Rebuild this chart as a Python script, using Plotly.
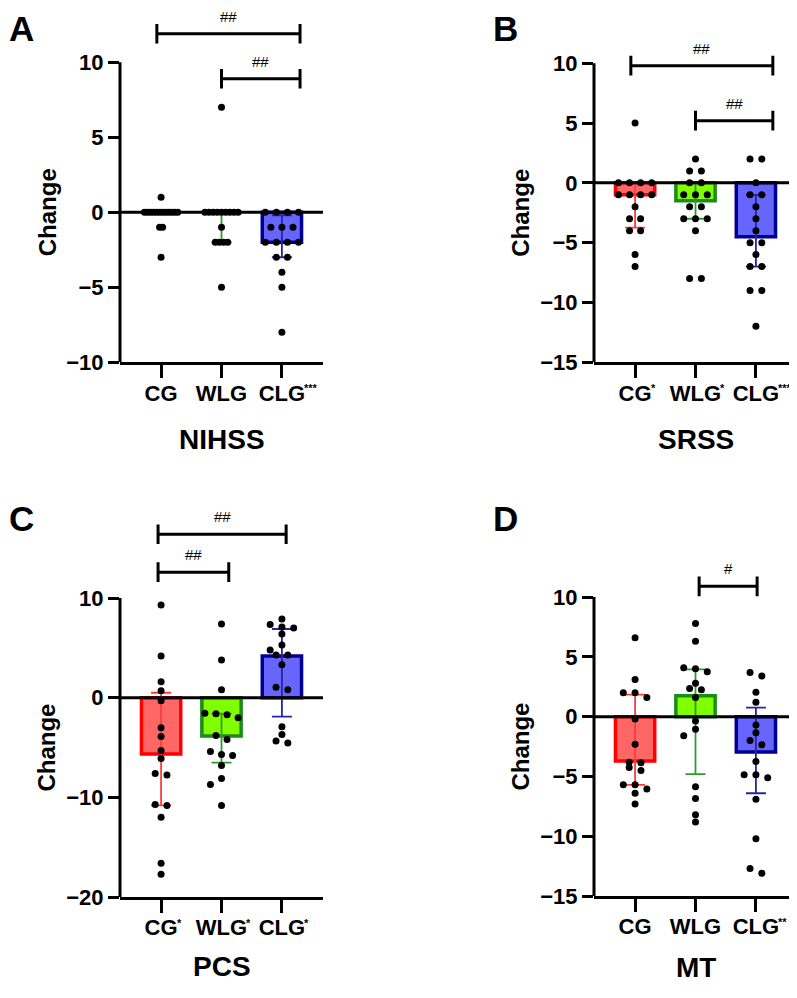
import numpy as np
import plotly.graph_objects as go

# the page puts the figure 8px in from the top-left corner,
# so the figure is sized to end exactly at the window edge
OFF = 8
FW, FH = 797 - OFF, 998 - 2 * OFF
FONT = "Liberation Sans, Arial, Helvetica, sans-serif"

groups = ["CG", "WLG", "CLG"]

# A - NIHSS change (one dot per patient)
nihss_cg = [1, 0, 0, 0, 0, 0, 0, 0, 0, 0, 0, 0, 0, -1, -1, -3]
nihss_wlg = [7, 0, 0, 0, 0, 0, 0, 0, 0, 0, -1, -2, -2, -2, -2, -5]
nihss_clg = [0, 0, 0, 0, -1, -1, -1, -2, -2, -2, -2, -3, -3, -4, -5, -8]
nihss_median = [0, 0, -2]
nihss_q3 = [0, 0, -0.2]
nihss_q1 = [0, -2, -3]
nihss_marks = ["", "", "***"]

# B - SRSS change
srss_cg = [5, 0, 0, 0, 0, -1, -1, -1, -1, -2, -3, -3, -4, -4, -6, -7]
srss_wlg = [2, 1, 1, 0, 0, -1, -1, -1, -2, -2, -3, -3, -3, -4, -8, -8]
srss_clg = [2, 2, 0, -1, -1, -2, -3, -4, -5, -5, -6, -7, -7, -9, -9, -12]
srss_median = [-1, -1.5, -4.5]
srss_q3 = [0, 0, -1]
srss_q1 = [-3.75, -3, -7]
srss_marks = ["*", "*", "***"]

# C - PCS change
pcs_cg = [9.3, 4.2, 1.6, 0.7, -0.3, -3.0, -3.9, -5.3, -6.1, -7.6, -7.75,
          -10.7, -10.8, -12.0, -16.6, -17.7]
pcs_wlg = [7.4, 3.8, 0.8, -1.55, -1.6, -1.7, -2.0, -3.8, -4.2, -5.4, -5.7,
           -5.8, -6.8, -8.1, -8.7, -10.8]
pcs_clg = [7.9, 7.35, 7.1, 7.0, 6.4, 5.3, 4.8, 4.3, 4.3, 3.3, 1.05, 0.8,
           -2.9, -3.7, -4.35, -4.55]
pcs_median = [-5.65, -3.85, 4.2]
pcs_q3 = [0.5, -1.6, 6.9]
pcs_q1 = [-10.8, -6.5, -1.9]
pcs_marks = ["*", "*", "*"]

# D - MT change
mt_cg = [6.6, 3.1, 2.0, 2.0, 1.6, -0.2, -2.3, -3.8, -3.85, -4.25, -4.5,
         -5.7, -5.7, -6.05, -6.4, -7.3]
mt_wlg = [7.8, 6.3, 4.1, 4.0, 3.75, 2.8, 2.35, 2.25, 1.6, -0.35, -1.05,
          -1.6, -5.85, -6.85, -8.2, -8.8]
mt_clg = [3.7, 3.4, 2.05, 1.2, -0.7, -1.35, -2.0, -2.35, -3.75, -4.85,
          -4.85, -5.1, -6.9, -10.2, -12.7, -13.1]
mt_median = [-3.7, 1.75, -2.95]
mt_q3 = [1.85, 3.95, 0.75]
mt_q1 = [-5.7, -4.8, -6.4]
mt_marks = ["", "", "**"]

# significance brackets: (from, to, height, label)
nihss_sig = [(-0.07, 2.3, 11.9, "##"), (1.0, 2.3, 8.9, "##")]
srss_sig = [(-0.07, 2.28, 9.8, "##"), (1.0, 2.28, 5.2, "##")]
pcs_sig = [(-0.05, 2.07, 16.4, "##"), (-0.05, 1.12, 12.6, "##")]
mt_sig = [(1.06, 2.02, 10.9, "#")]

FILL = ["#ff6666", "#80ff00", "#6666ff"]
EDGE = ["#ff0000", "#1a8c1a", "#000090"]
ERR = ["#ff3b3b", "#2e9b2e", "#26269e"]

X_RANGE = [-0.68, 2.68]
PLOT_W = 203
TICK_SIZE = 22
# Arial/Liberation bold advance widths, used to hang the stars off the labels
GLYPH_W = {"C": 0.722, "G": 0.778, "L": 0.611, "W": 0.944}

panels = [
    dict(letter="A", title="NIHSS", dots=[nihss_cg, nihss_wlg, nihss_clg],
         med=nihss_median, q3=nihss_q3, q1=nihss_q1, marks=nihss_marks, sig=nihss_sig,
         rng=(-10, 10), tickvals=[-10, -5, 0, 5, 10],
         x0=120, y_lo=367, y_hi=63, top=22, title_y=445),
    dict(letter="B", title="SRSS", dots=[srss_cg, srss_wlg, srss_clg],
         med=srss_median, q3=srss_q3, q1=srss_q1, marks=srss_marks, sig=srss_sig,
         rng=(-15, 10), tickvals=[-15, -10, -5, 0, 5, 10],
         x0=594, y_lo=367, y_hi=64, top=40, title_y=445),
    dict(letter="C", title="PCS", dots=[pcs_cg, pcs_wlg, pcs_clg],
         med=pcs_median, q3=pcs_q3, q1=pcs_q1, marks=pcs_marks, sig=pcs_sig,
         rng=(-20, 10), tickvals=[-20, -10, 0, 10],
         x0=120, y_lo=909, y_hi=606, top=515, title_y=979),
    dict(letter="D", title="MT", dots=[mt_cg, mt_wlg, mt_clg],
         med=mt_median, q3=mt_q3, q1=mt_q1, marks=mt_marks, sig=mt_sig,
         rng=(-15, 10), tickvals=[-15, -10, -5, 0, 5, 10],
         x0=594, y_lo=908, y_hi=605, top=570, title_y=980),
]


def px(x):
    return (x - OFF) / FW


def py(y):
    return 1 - (y - OFF) / FH


def swarm(values, ypx, xpx, dot=7.0, step=0.195, maxspan=0.55, tol=5.0):
    # near-equal values share a centred row, lone points are nudged
    # sideways only when they would overlap an already placed dot
    vals = np.asarray(values, float)
    order = list(np.argsort(-vals, kind="stable"))
    rows = []
    for i in order:
        if rows and (vals[rows[-1][0]] - vals[i]) * ypx < tol:
            rows[-1].append(i)
        else:
            rows.append([i])
    biggest = max(len(r) for r in rows)
    sp = step if biggest < 2 else min(step, maxspan / (biggest - 1))
    off = np.zeros(len(vals))
    placed = []
    for r in rows:
        if len(r) > 1:
            for n, j in enumerate(r):
                off[j] = (n - (len(r) - 1) / 2) * sp
        else:
            i = r[0]
            cands = [0.0]
            for m in range(1, 6):
                cands += [-m * sp, m * sp]
            for c in cands:
                if all(((c - off[j]) * xpx) ** 2 + ((vals[i] - vals[j]) * ypx) ** 2 >= dot ** 2
                       for j in placed):
                    off[i] = c
                    break
        placed += r
    return off


fig = go.Figure()
shapes = []
annotations = []
tick_font = dict(family=FONT, size=TICK_SIZE, color="black", weight="bold")

for k, p in enumerate(panels):
    ax = "" if k == 0 else str(k + 1)
    xa, ya = "x" + ax, "y" + ax
    lo, hi = p["rng"]
    ypx = (p["y_lo"] - p["y_hi"]) / (hi - lo)
    xpx = PLOT_W / (X_RANGE[1] - X_RANGE[0])
    ytop = hi + (p["y_hi"] - p["top"]) / ypx

    for i, g in enumerate(groups):
        m = p["med"][i]
        fig.add_trace(go.Bar(
            x=[i], y=[m], width=0.65, xaxis=xa, yaxis=ya,
            marker=dict(color=FILL[i], line=dict(color=EDGE[i], width=3.5)),
            error_y=dict(type="data", symmetric=False,
                         array=[p["q3"][i] - m], arrayminus=[m - p["q1"][i]],
                         color=ERR[i], thickness=1.8, width=10),
        ))
    for i, vals in enumerate(p["dots"]):
        off = swarm(vals, ypx, xpx)
        fig.add_trace(go.Scatter(
            x=i + off, y=vals, mode="markers", xaxis=xa, yaxis=ya,
            marker=dict(size=7, color="black"),
        ))
    for a, b, yb, lab in p["sig"]:
        fig.add_trace(go.Scatter(
            x=[a, b], y=[yb, yb], mode="lines+markers", xaxis=xa, yaxis=ya,
            line=dict(color="black", width=3),
            marker=dict(symbol="line-ns", size=14, line=dict(color="black", width=3)),
        ))
        annotations.append(dict(
            x=(a + b) / 2, y=yb, xref=xa, yref=ya, text=lab, showarrow=False,
            yanchor="bottom", yshift=7, font=dict(family=FONT, size=15, color="black"),
        ))

    # significance stars hang off the right of the centred group labels
    for i, (g, mk) in enumerate(zip(groups, p["marks"])):
        if not mk:
            continue
        half = sum(GLYPH_W[c] for c in g) * TICK_SIZE / 2
        annotations.append(dict(
            x=i, y=0, xref=xa, yref=ya + " domain", text=mk, showarrow=False,
            xanchor="left", yanchor="top", xshift=half - 2, yshift=-19, borderpad=0,
            font=dict(family=FONT, size=11, color="black", weight="bold"),
        ))

    # zero line and y axis line (the axis line stops at the top tick)
    shapes.append(dict(type="line", xref=xa + " domain", yref=ya, x0=0, x1=1, y0=0, y1=0,
                       line=dict(color="black", width=3), layer="above"))
    shapes.append(dict(type="line", xref=xa + " domain", yref=ya, x0=0, x1=0, y0=lo, y1=hi,
                       line=dict(color="black", width=3), layer="above"))

    fig.update_layout({
        "xaxis" + ax: dict(
            domain=[px(p["x0"]), min(1, px(p["x0"] + PLOT_W))], range=X_RANGE, anchor=ya,
            showline=True, linecolor="black", linewidth=3, ticks="outside",
            ticklen=13, tickwidth=3, tickcolor="black", tickvals=[0, 1, 2],
            ticktext=groups, tickangle=0, tickfont=tick_font, ticklabelstandoff=-4,
            ticklabeloverflow="allow", showgrid=False, zeroline=False,
        ),
        "yaxis" + ax: dict(
            domain=[py(p["y_lo"]), py(p["top"])], range=[lo, ytop], anchor=xa,
            showline=False, ticks="outside", ticklen=11, tickwidth=3, tickcolor="black",
            tickvals=p["tickvals"], tickfont=tick_font, ticklabelstandoff=0,
            showgrid=False, zeroline=False,
        ),
    })

    annotations.append(dict(
        x=px(p["x0"] - 73), y=py((p["y_lo"] + p["y_hi"]) / 2), xref="paper", yref="paper",
        text="Change", textangle=-90, showarrow=False, xanchor="center", yanchor="middle",
        font=dict(family=FONT, size=24, color="black", weight="bold"),
    ))
    annotations.append(dict(
        x=px(p["x0"] + 102), y=py(p["title_y"]), xref="paper", yref="paper",
        text=p["title"], showarrow=False, xanchor="center", yanchor="middle",
        font=dict(family=FONT, size=28, color="black", weight="bold"),
    ))
    # panel letter in the corner of its quarter of the page
    left = k % 2 == 0
    annotations.append(dict(
        x=0 if left else px(505), y=1 if k < 2 else py(525),
        xref="paper", yref="paper", text=p["letter"], showarrow=False,
        xanchor="left" if left else "center", yanchor="top" if k < 2 else "middle",
        borderpad=0, font=dict(family=FONT, size=35, color="black", weight="bold"),
    ))

fig.update_layout(
    width=FW, height=FH, margin=dict(l=0, r=0, t=0, b=0),
    paper_bgcolor="white", plot_bgcolor="white",
    barmode="overlay", showlegend=False,
    shapes=shapes, annotations=annotations,
)

fig.write_html("out.html")
